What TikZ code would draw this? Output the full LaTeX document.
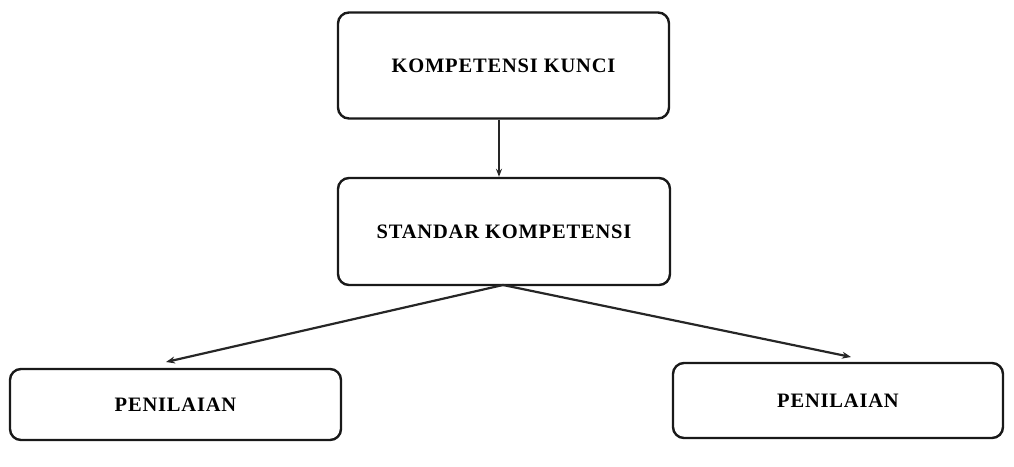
\documentclass[tikz,border=0pt]{standalone}
\usepackage{fontspec}
\setmainfont{Liberation Serif}
\newfontfamily\boxfont[LetterSpace=4]{Liberation Serif}
\usetikzlibrary{arrows.meta}
\begin{document}
\begin{tikzpicture}[x=1pt,y=-1pt,
  box/.style={draw=black!90, line width=2.4pt, rounded corners=11pt, inner sep=0pt,
    font=\boxfont\bfseries\fontsize{20.5}{24}\selectfont},
  conn/.style={draw=black!85, line width=2.2pt, -{Stealth[length=9pt,width=7pt]}},
  vconn/.style={draw=black!85, line width=1.5pt, -{Stealth[length=8pt,width=6pt,open]}}]
\useasboundingbox (0,0) rectangle (1014,466);
\node[box, minimum width=331pt, minimum height=106pt] (kk) at (503.5,65.5) {KOMPETENSI KUNCI};
\node[box, minimum width=332pt, minimum height=107pt] (sk) at (504,231.5) {STANDAR KOMPETENSI};
\node[box, minimum width=331pt, minimum height=71pt] (p1) at (175.5,404.5) {PENILAIAN};
\node[box, minimum width=330pt, minimum height=75pt] (p2) at (838,400.5) {PENILAIAN};
\coordinate (t1) at (166,362);
\coordinate (t2) at (851,357);
\coordinate (apex) at (503,285);
\draw[vconn] (kk.south -| 499,0) -- (sk.north -| 499,0);
\draw[conn] (apex) -- (t1);
\draw[conn] (apex) -- (t2);
\end{tikzpicture}
\end{document}
